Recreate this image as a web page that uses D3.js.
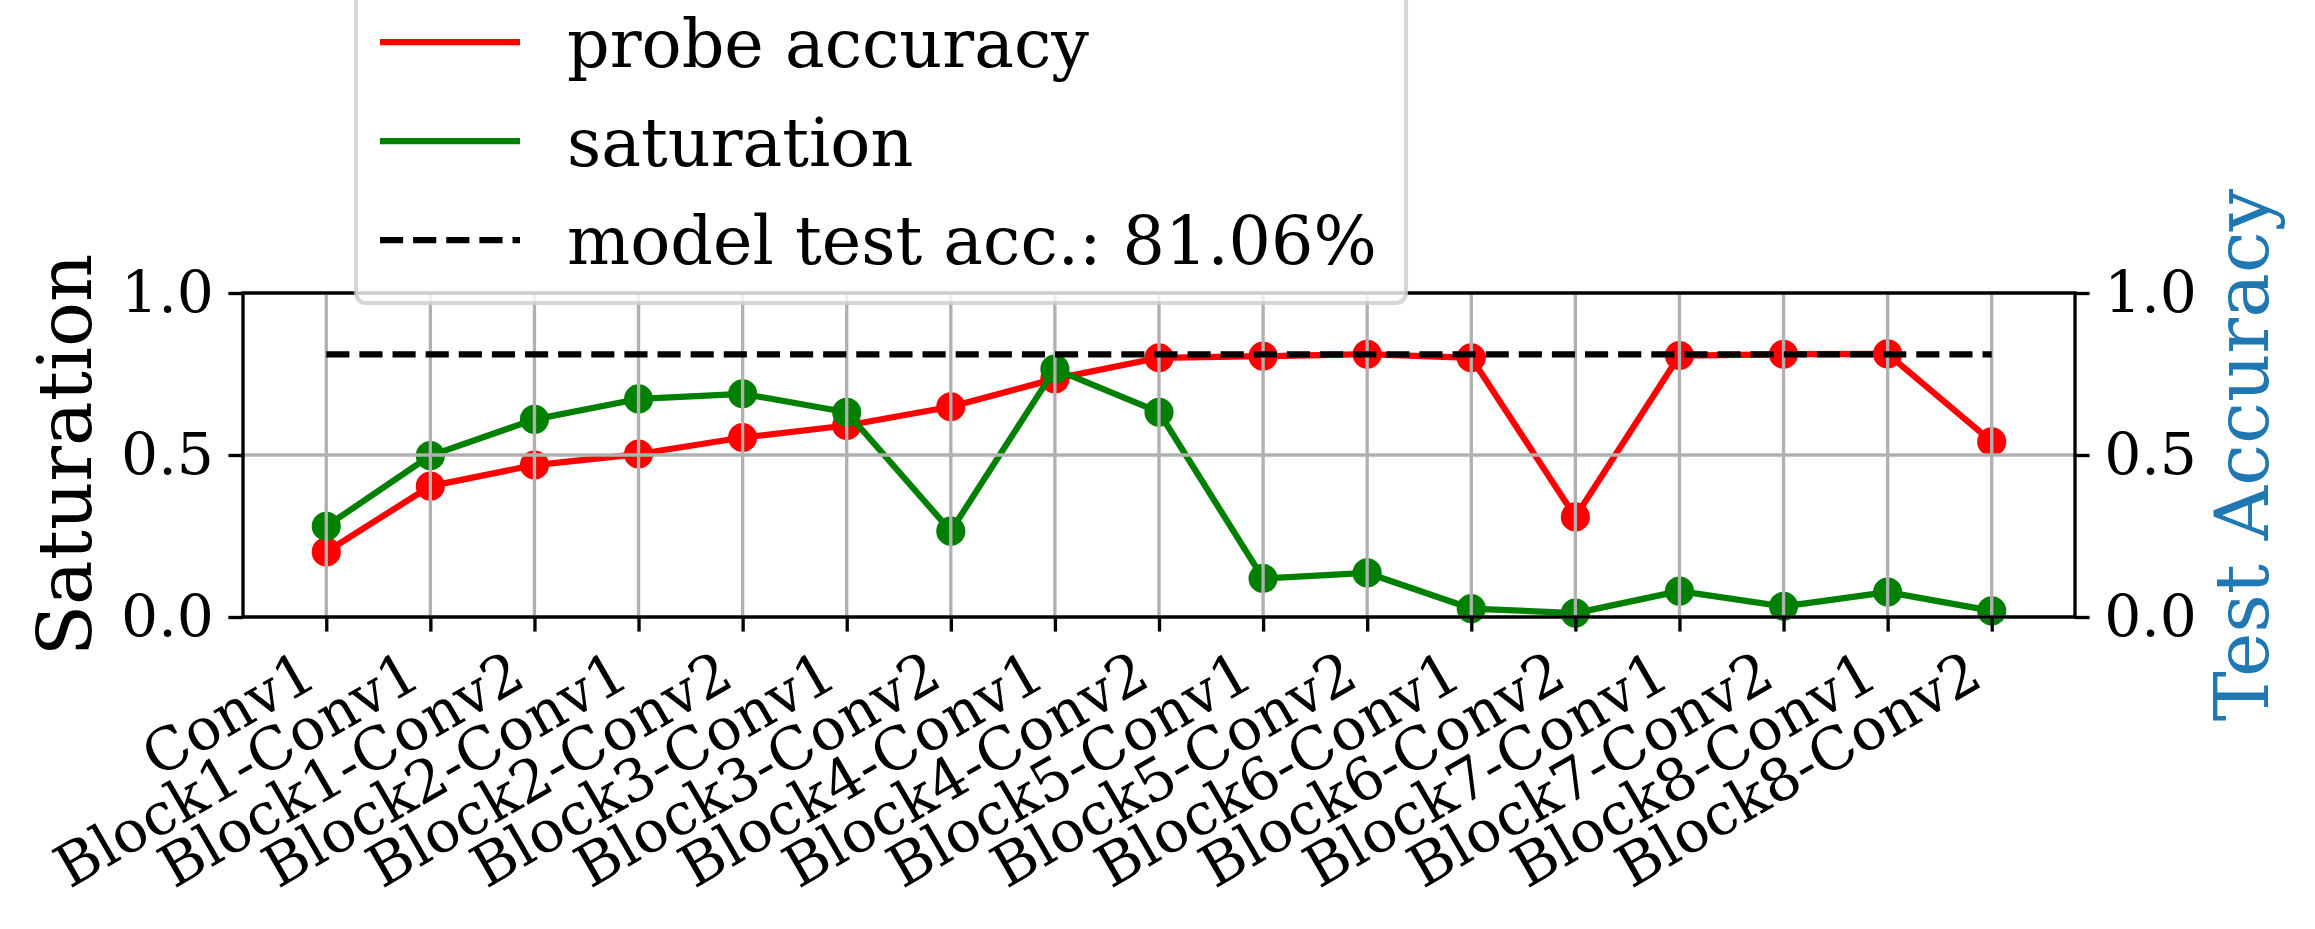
<!DOCTYPE html>
<html>
<head>
<meta charset="utf-8">
<script src="https://cdn.jsdelivr.net/npm/d3@7"></script>
<style>
  html, body { margin: 0; padding: 0; background: #ffffff; }
  svg { display: block; }
</style>
</head>
<body>
<script>
// ---------------- data ----------------
const categories = ["Conv1","Block1-Conv1","Block1-Conv2","Block2-Conv1","Block2-Conv2","Block3-Conv1","Block3-Conv2","Block4-Conv1","Block4-Conv2","Block5-Conv1","Block5-Conv2","Block6-Conv1","Block6-Conv2","Block7-Conv1","Block7-Conv2","Block8-Conv1","Block8-Conv2"];
const probeAccuracy = [0.201,0.404,0.469,0.503,0.554,0.591,0.649,0.735,0.800,0.805,0.811,0.800,0.309,0.807,0.811,0.812,0.541];
const saturation = [0.280,0.498,0.610,0.673,0.689,0.632,0.265,0.765,0.632,0.119,0.136,0.026,0.012,0.080,0.033,0.077,0.019];
const modelTestAcc = 0.8106;
const yTicks = [0.0, 0.5, 1.0];
const legendLabels = ["probe accuracy", "saturation", "model test acc.: 81.06%"];

// ---------------- layout ----------------
const W = 2315, H = 929;
const plotL = 243, plotR = 2075, plotT = 293, plotB = 617;
const pt = 300 / 72;               // 300 dpi
const font = "'DejaVu Serif', serif";
const tickFont = 14 * pt, legendFont = 16 * pt, labelFont = 18 * pt;
const spineW = 0.8 * pt, lineW = 1.5 * pt, tickLen = 3.5 * pt, tickPad = 3.5 * pt;

const svg = d3.select("body").append("svg")
  .attr("width", W).attr("height", H)
  .style("background", "#fff");

const n = categories.length;
const x = d3.scaleLinear().domain([-0.8, n - 1 + 0.8]).range([plotL, plotR]);
const y = d3.scaleLinear().domain([0, 1]).range([plotB, plotT]);
const yR = d3.scaleLinear().domain([0, 1]).range([plotB, plotT]);

const line = d3.line().x((d, i) => x(i)).y(d => y(d));

// probe accuracy (red)
svg.append("path").datum(probeAccuracy)
  .attr("d", line).attr("fill", "none").attr("stroke", "#ff0000")
  .attr("stroke-width", lineW).attr("stroke-linejoin", "round").attr("stroke-linecap", "square");
svg.append("g").selectAll("circle").data(probeAccuracy).join("circle")
  .attr("cx", (d, i) => x(i)).attr("cy", d => y(d)).attr("r", 3 * pt)
  .attr("fill", "#ff0000").attr("stroke", "#ff0000").attr("stroke-width", 1 * pt);

// saturation (green)
svg.append("path").datum(saturation)
  .attr("d", line).attr("fill", "none").attr("stroke", "#008000")
  .attr("stroke-width", lineW).attr("stroke-linejoin", "round").attr("stroke-linecap", "square");
svg.append("g").selectAll("circle").data(saturation).join("circle")
  .attr("cx", (d, i) => x(i)).attr("cy", d => y(d)).attr("r", 3 * pt)
  .attr("fill", "#008000").attr("stroke", "#008000").attr("stroke-width", 1 * pt);

// grid (drawn above data lines, as in reference)
const grid = svg.append("g").attr("stroke", "#b0b0b0").attr("stroke-width", spineW);
grid.selectAll("line.v").data(categories).join("line").attr("class", "v")
  .attr("x1", (d, i) => x(i)).attr("x2", (d, i) => x(i))
  .attr("y1", plotT).attr("y2", plotB);
grid.selectAll("line.h").data(yTicks).join("line").attr("class", "h")
  .attr("x1", plotL).attr("x2", plotR)
  .attr("y1", d => y(d)).attr("y2", d => y(d));

// model test accuracy dashed line
svg.append("line")
  .attr("x1", x(0)).attr("x2", x(n - 1))
  .attr("y1", yR(modelTestAcc)).attr("y2", yR(modelTestAcc))
  .attr("stroke", "#000").attr("stroke-width", lineW)
  .attr("stroke-dasharray", `${3.7 * lineW},${1.6 * lineW}`);

// ---------------- axes ----------------
function styleAxis(g) {
  g.select(".domain").remove();
  g.selectAll(".tick line").attr("stroke", "#000").attr("stroke-width", spineW);
  g.selectAll(".tick text").attr("fill", "#000")
    .style("font-family", font).style("font-size", tickFont + "px");
}

const yAxisL = svg.append("g").attr("transform", `translate(${plotL},0)`)
  .call(d3.axisLeft(y).tickValues(yTicks).tickFormat(d3.format(".1f"))
    .tickSize(tickLen).tickPadding(tickPad));
styleAxis(yAxisL);

const yAxisR = svg.append("g").attr("transform", `translate(${plotR},0)`)
  .call(d3.axisRight(yR).tickValues(yTicks).tickFormat(d3.format(".1f"))
    .tickSize(tickLen).tickPadding(tickPad));
styleAxis(yAxisR);

const xAxis = svg.append("g").attr("transform", `translate(0,${plotB})`)
  .call(d3.axisBottom(x).tickValues(d3.range(n)).tickFormat(i => categories[i])
    .tickSize(tickLen).tickPadding(tickPad));
styleAxis(xAxis);
const asc = 0.76 * tickFont, desc = 0.24 * tickFont;
xAxis.selectAll(".tick text")
  .attr("x", 0).attr("y", 0).attr("dy", null)
  .attr("text-anchor", "end")
  .attr("transform", `translate(${-0.5 * desc},${tickLen + tickPad + 0.866 * asc}) rotate(-30)`);

// spines
svg.append("rect")
  .attr("x", plotL).attr("y", plotT).attr("width", plotR - plotL).attr("height", plotB - plotT)
  .attr("fill", "none").attr("stroke", "#000").attr("stroke-width", spineW);

// axis labels
svg.append("text")
  .attr("transform", `translate(91,${(plotT + plotB) / 2}) rotate(-90)`)
  .attr("text-anchor", "middle")
  .style("font-family", font).style("font-size", labelFont + "px").attr("fill", "#000")
  .text("Saturation");
svg.append("text")
  .attr("transform", `translate(2268,${(plotT + plotB) / 2}) rotate(-90)`)
  .attr("text-anchor", "middle")
  .style("font-family", font).style("font-size", labelFont + "px").attr("fill", "#1f77b4")
  .text("Test Accuracy");

// ---------------- legend ----------------
const leg = svg.append("g");
leg.append("rect")
  .attr("x", 356).attr("y", -40).attr("width", 1406 - 356).attr("height", 303 - (-40))
  .attr("rx", 10).attr("ry", 10)
  .attr("fill", "#fff").attr("fill-opacity", 0.8)
  .attr("stroke", "#cccccc").attr("stroke-opacity", 0.8).attr("stroke-width", 1 * pt);

const legColors = ["#ff0000", "#008000", "#000000"];
const legDash = [null, null, `${3.7 * lineW},${1.6 * lineW}`];
const legY = [42, 141, 240];
const legBase = [67, 166, 264];
legendLabels.forEach((lab, i) => {
  leg.append("line")
    .attr("x1", 380).attr("x2", 520).attr("y1", legY[i]).attr("y2", legY[i])
    .attr("stroke", legColors[i]).attr("stroke-width", lineW)
    .attr("stroke-dasharray", legDash[i]);
  leg.append("text")
    .attr("x", 567).attr("y", legBase[i])
    .style("font-family", font).style("font-size", legendFont + "px").attr("fill", "#000")
    .text(lab);
});
</script>
</body>
</html>
